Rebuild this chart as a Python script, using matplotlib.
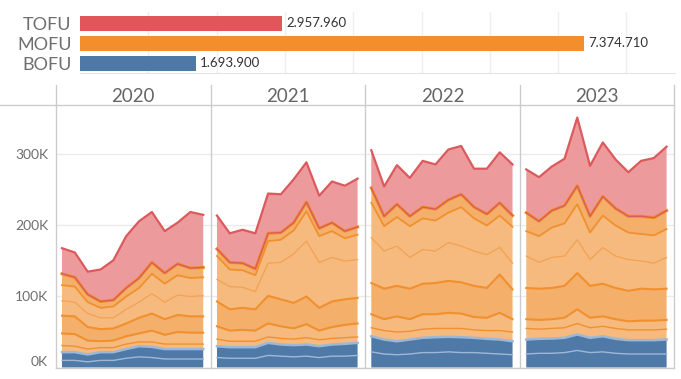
import numpy as np
import matplotlib
matplotlib.use('Agg')
import matplotlib.pyplot as plt
from matplotlib.lines import Line2D

plt.rcParams['font.family'] = ['Lato', 'DejaVu Sans']

# funnel totals (top bar chart)
stages = ['TOFU', 'MOFU', 'BOFU']
stage_totals = [2957960, 7374710, 1693900]
stage_colors = ['#E15759', '#F28E2B', '#4E79A7']

years = [2020, 2021, 2022, 2023]
months = np.arange(12)
y_ticks = [0, 100, 200, 300]
y_tick_labels = ['0K', '100K', '200K', '300K']

# stacked levels per month, in thousands (one list per year)
blue_mid = [
    [10, 10, 8, 10, 10, 13, 15, 14, 12, 12, 12, 12],
    [14, 13, 13, 13, 17, 16, 15, 16, 14, 16, 16, 17],
    [22, 19, 18, 19, 21, 21, 22, 21, 21, 20, 19, 18],
    [19, 20, 20, 21, 24, 21, 22, 20, 19, 19, 19, 19],
]
blue_top = [
    [21.6, 21.6, 18.3, 21.6, 21.6, 26, 30, 29, 26, 26, 26, 26],
    [30, 28.6, 28.6, 28.6, 34.7, 32.4, 31.5, 32.4, 30, 32.4, 33.3, 34.7],
    [44, 39.4, 37, 39.4, 41.8, 42.7, 43.2, 42.7, 41.8, 40.4, 39.4, 37],
    [39.4, 40.4, 40.8, 41.8, 46.5, 41.8, 44, 40.4, 38.5, 38.5, 38.5, 39.4],
]
orange_low = [
    [31, 30, 26, 28, 28, 33, 36, 36, 33, 33, 33, 33],
    [40, 37, 37, 37, 43, 41, 40, 42, 39, 41, 42, 43],
    [56, 52, 50, 51, 54, 55, 55, 55, 53, 52, 52, 50],
    [55, 54, 55, 56, 62, 56, 58, 55, 53, 53, 53, 54],
]
orange_c1 = [
    [48, 47, 38, 37, 38, 44, 48, 52, 46, 50, 49, 49],
    [58, 52, 53, 52, 62, 58, 55, 61, 52, 57, 60, 62],
    [75, 68, 72, 68, 75, 75, 77, 76, 71, 70, 77, 68],
    [68, 67, 68, 70, 82, 70, 72, 68, 65, 66, 66, 67],
]
orange_c2 = [
    [73, 72, 57, 54, 55, 62, 70, 76, 68, 74, 72, 72],
    [93, 82, 84, 82, 101, 96, 91, 100, 84, 93, 96, 98],
    [119, 111, 115, 111, 118, 119, 122, 120, 115, 112, 131, 110],
    [112, 111, 112, 115, 133, 115, 118, 112, 108, 111, 110, 111],
]
orange_mid = [
    [94, 92, 76, 70, 70, 82, 92, 104, 92, 102, 100, 101],
    [124, 114, 113, 107, 147, 148, 160, 178, 148, 155, 150, 152],
    [183, 164, 171, 155, 166, 164, 176, 171, 164, 159, 169, 147],
    [157, 148, 155, 157, 180, 152, 169, 157, 152, 150, 147, 155],
]
orange_c3 = [
    [116, 114, 92, 84, 86, 100, 112, 132, 118, 130, 126, 127],
    [157, 138, 137, 130, 178, 180, 193, 220, 185, 192, 182, 187],
    [232, 199, 212, 199, 210, 207, 218, 226, 210, 200, 214, 198],
    [192, 185, 197, 203, 230, 190, 214, 200, 190, 188, 186, 195],
]
orange_top = [
    [132, 127, 103, 93, 95, 112, 126, 148, 133, 146, 140, 141],
    [167, 148, 147, 139, 189, 190, 204, 233, 196, 204, 192, 198],
    [253, 213, 230, 213, 226, 223, 236, 244, 226, 216, 232, 214],
    [218, 206, 221, 228, 256, 213, 241, 224, 213, 213, 211, 221],
]
red_top = [
    [168, 162, 135, 138, 151, 185, 206, 219, 192, 204, 219, 215],
    [214, 189, 194, 189, 245, 244, 265, 289, 242, 262, 256, 266],
    [306, 255, 285, 267, 291, 286, 307, 312, 280, 280, 303, 286],
    [279, 268, 283, 294, 352, 284, 317, 293, 275, 291, 295, 311],
]

W, H = 681, 379
fig = plt.figure(figsize=(W / 100, H / 100), dpi=100)


def fx(px):
    return px / W


def fy(py):
    return 1 - py / H


# --- top bar chart ---
axb = fig.add_axes([fx(80), fy(73), fx(675 - 80), (73 - 12) / H])
axb.barh(range(3), stage_totals, height=0.735, color=stage_colors, zorder=2)
axb.set_xlim(0, 8.71e6)
axb.set_ylim(2.485, -0.565)
axb.set_xticks(np.arange(1e6, 9e6, 1e6))
axb.grid(axis='x', color='#EFEFEF', lw=1)
axb.set_axisbelow(True)
axb.tick_params(axis='x', length=0, labelbottom=False)
axb.set_yticks(range(3))
axb.set_yticklabels(stages)
axb.tick_params(axis='y', length=0, pad=6, labelsize=13, labelcolor='#6E6E6E')
for name, s in axb.spines.items():
    s.set_visible(name == 'bottom')
axb.spines['bottom'].set_color('#E4E4E4')
for i, v in enumerate(stage_totals):
    axb.annotate(f'{v:,}'.replace(',', '.'), (v, i), xytext=(3, 0),
                 textcoords='offset points', va='center', ha='left',
                 fontsize=9.5, color='#333333')

# --- yearly stacked areas ---
edges = [55.7, 210.7, 365, 520, 674]
blue_fill, orange_fill, orange_band, red_fill = '#4F7AA8', '#F6BA7F', '#F4AF6A', '#EC9A9C'
for i, yr in enumerate(years):
    ax = fig.add_axes([fx(edges[i]), fy(367.5), fx(edges[i + 1] - edges[i]), (367.5 - 105) / H])
    ax.set_xlim(-0.49, 11.58)
    ax.set_ylim(0, 369.7)
    levels = np.array([np.zeros(12), blue_mid[i], blue_top[i], orange_low[i], orange_c1[i],
                       orange_c2[i], orange_mid[i], orange_c3[i], orange_top[i], red_top[i]])
    fills = [blue_fill, blue_fill, orange_fill, orange_fill, orange_band,
             orange_fill, orange_fill, orange_band, red_fill]
    ax.stackplot(months, np.diff(levels, axis=0), colors=fills, lw=0, zorder=2)
    ax.plot(months, blue_mid[i], color='#9DB8D6', lw=1, zorder=3)
    ax.plot(months, blue_top[i], color='#9DB8D6', lw=1.8, zorder=3)
    ax.plot(months, orange_low[i], color='#F0902E', lw=1, zorder=3)
    ax.plot(months, orange_c1[i], color='#F0902E', lw=1.5, zorder=3)
    ax.plot(months, orange_c2[i], color='#F0902E', lw=1.5, zorder=3)
    ax.plot(months, orange_mid[i], color='#F2A150', lw=0.9, zorder=3)
    ax.plot(months, orange_c3[i], color='#F0902E', lw=1.3, zorder=3)
    ax.plot(months, orange_top[i], color='#F0902E', lw=2.2, zorder=3)
    ax.plot(months, orange_top[i], color='#DC5B5E', lw=1.0, zorder=4)
    ax.plot(months, red_top[i], color='#DB5A5D', lw=1.6, zorder=4)

    ax.set_yticks(y_ticks)
    ax.grid(axis='y', color='#EBEBEB', lw=1)
    ax.set_axisbelow(True)
    ax.set_xticks([])
    for s in ax.spines.values():
        s.set_visible(False)
    if i == 0:
        ax.set_yticklabels(y_tick_labels)
        ax.tick_params(axis='y', length=0, pad=5.5, labelsize=10, labelcolor='#6E6E6E')
        ax.get_yticklabels()[0].set_verticalalignment('bottom')
    else:
        ax.tick_params(axis='y', length=0, labelleft=False)

    fig.text(fx((edges[i] + edges[i + 1]) / 2), fy(96), str(yr), ha='center', va='center',
             fontsize=13.5, color='#666666')

# panel borders
line_color = '#CCCCCC'
for x in edges:
    fig.add_artist(Line2D([fx(x), fx(x)], [fy(85), fy(367.5)], transform=fig.transFigure,
                          color=line_color, lw=1))
fig.add_artist(Line2D([0, fx(674)], [fy(105), fy(105)], transform=fig.transFigure,
                      color=line_color, lw=1))
fig.add_artist(Line2D([fx(55.7), fx(674)], [fy(367.5), fy(367.5)], transform=fig.transFigure,
                      color=line_color, lw=1))

fig.savefig('out.png', dpi=100)
